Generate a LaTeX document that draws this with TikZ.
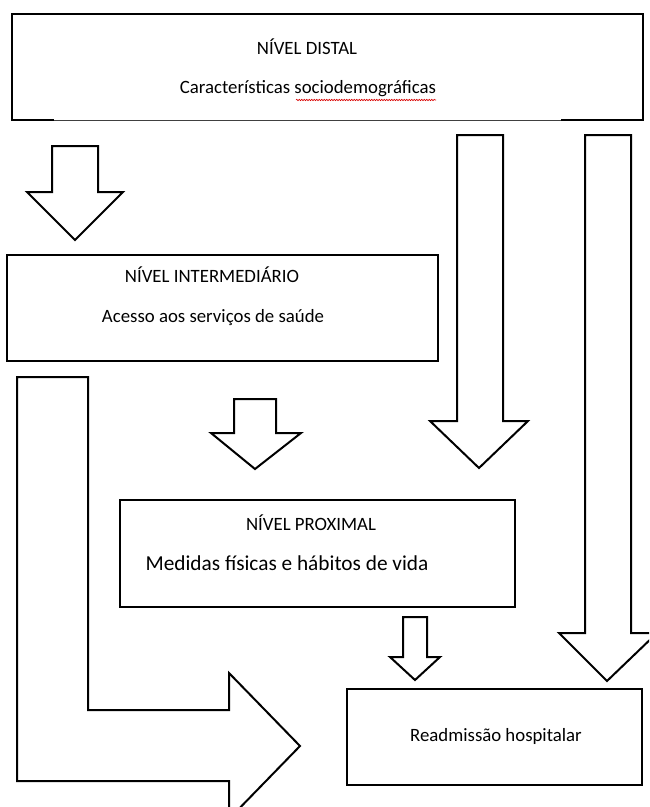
\documentclass[tikz,border=0pt]{standalone}
\usepackage{fontspec}
\setmainfont{Carlito}
\usetikzlibrary{decorations.pathmorphing}
\begin{document}
\begin{tikzpicture}[x=1pt,y=-1pt]
\tikzset{
  edge/.style={draw=black, line width=2pt, line join=miter},
  blockarrow/.style={draw=black, fill=white, line width=2pt, line join=miter},
  boxnode/.style={draw=black, line width=2pt, fill=white, anchor=north west, inner sep=0pt, outer sep=0pt},
  lbl/.style={inner sep=0pt, font=\fontsize{18.8}{22}\selectfont},
  biglbl/.style={inner sep=0pt, font=\fontsize{21.3}{25}\selectfont},
  spell/.style={draw=red!85!black, line width=0.6pt, decorate, decoration={snake, amplitude=0.7pt, segment length=2.5pt}},
}
\useasboundingbox (0,0) rectangle (649,807);
\clip (0,0) rectangle (649,807);

% top box (distal) with thin middle of bottom edge
\node[anchor=north west, inner sep=0pt, outer sep=0pt, minimum width=631pt, minimum height=106pt] (distal) at (12,14) {};
\draw[edge] (54,120) -- (12,120) -- (12,14) -- (643,14) -- (643,120) -- (561,120);
\draw[line width=1pt, black!75] (54,120.5) -- (561,120.5);
\node[lbl] (distalT) at (307,47) {NÍVEL DISTAL};
\node[lbl] (distalS) at (308,89) {Características sociodemográficas};
\draw[spell] (296,100) -- (436,100);

% arrow distal -> intermediate
\draw[blockarrow] (52,146) -- (98,146) -- (98,192) -- (123,192) -- (75,240) -- (27,192) -- (52,192) -- cycle;

% right long arrows
\draw[blockarrow] (457,135) -- (503,135) -- (503,421) -- (528,421) -- (479,468) -- (430,421) -- (457,421) -- cycle;
\draw[blockarrow] (585,135) -- (631,135) -- (631,633) -- (657,633) -- (607,681) -- (559,633) -- (585,633) -- cycle;

% intermediate box
\node[boxnode, minimum width=431pt, minimum height=106pt] (inter) at (7,255) {};
\node[lbl] (interT) at (212,275) {NÍVEL INTERMEDIÁRIO};
\node[lbl] (interS) at (213,318) {Acesso aos serviços de saúde};

% L-shaped arrow
\draw[blockarrow] (17,377) -- (88,377) -- (88,710) -- (229,710) -- (229,673) -- (300,746) -- (229,819) -- (229,781) -- (17,781) -- cycle;

% arrow intermediate -> proximal
\draw[blockarrow] (234,399) -- (276,399) -- (276,433) -- (301,433) -- (255,469) -- (211,433) -- (234,433) -- cycle;

% proximal box
\node[boxnode, minimum width=395pt, minimum height=107pt] (prox) at (120,500) {};
\node[lbl] (proxT) at (311,523) {NÍVEL PROXIMAL};
\node[biglbl] (proxS) at (287,563) {Medidas físicas e hábitos de vida};

% arrow proximal -> readmission
\draw[blockarrow] (403,617) -- (427,617) -- (427,657) -- (440,657) -- (415,680) -- (390,657) -- (403,657) -- cycle;

% readmission box
\node[boxnode, minimum width=295pt, minimum height=96pt] (readm) at (347,689) {};
\node[lbl] (readmT) at (496,736) {Readmissão hospitalar};
\end{tikzpicture}
\end{document}
